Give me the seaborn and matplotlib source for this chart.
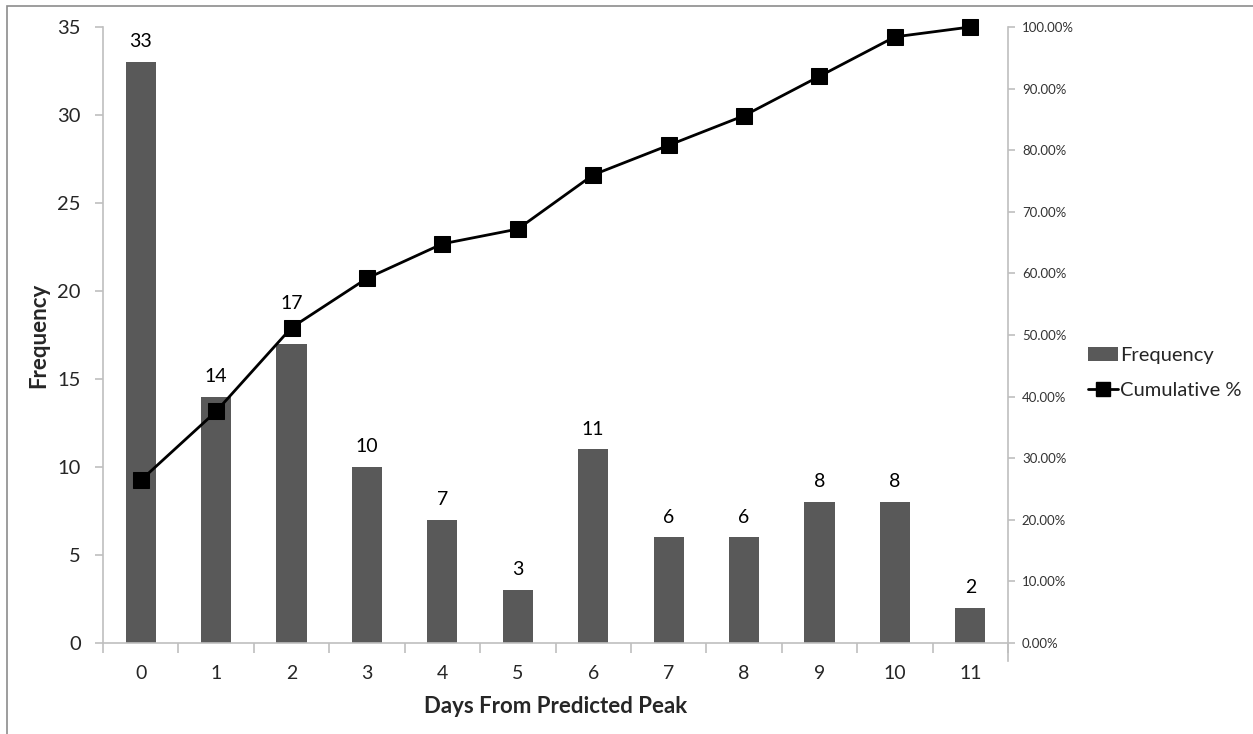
import matplotlib
matplotlib.use("Agg")
import matplotlib.pyplot as plt
import seaborn as sns
import pandas as pd
from matplotlib.lines import Line2D
from matplotlib.patches import Patch, Rectangle
from matplotlib.ticker import FuncFormatter, MultipleLocator

days = ["0", "1", "2", "3", "4", "5", "6", "7", "8", "9", "10", "11"]
frequency = [33, 14, 17, 10, 7, 3, 11, 6, 6, 8, 8, 2]
cumulative_pct = [26.40, 37.60, 51.20, 59.20, 64.80, 67.20,
                  76.00, 80.80, 85.60, 92.00, 98.40, 100.00]

sns.set_theme(style="white")
plt.rcParams["font.family"] = ["Lato", "DejaVu Sans"]

AXIS_GREY = "#bfbfbf"
BAR_GREY = "#595959"

fig = plt.figure(figsize=(12.53, 7.34), dpi=100)
fig.patches.append(Rectangle((7 / 1253, -0.01), 1.2, 1 - 6 / 734 + 0.01,
                             transform=fig.transFigure, fill=False,
                             edgecolor="#8c8c8c", linewidth=1.2))
ax = fig.add_axes([103 / 1253, 1 - 643 / 734, (1008 - 103) / 1253, (643 - 27) / 734])

df = pd.DataFrame({"day": days, "freq": frequency})
sns.barplot(data=df, x="day", y="freq", color=BAR_GREY, saturation=1,
            width=0.4, ax=ax, zorder=2)
for p in ax.patches:
    p.set_edgecolor("none")

# value labels; the one for day 2 is lifted clear of the cumulative line
label_lift = {2: 23}
for i, v in enumerate(frequency):
    ax.annotate(str(v), (i, v), xytext=(0, label_lift.get(i, 8.5)),
                textcoords="offset points", ha="center", va="bottom",
                fontsize=14, color="#000000")

ax.set_xlim(-0.5, len(days) - 0.5)
ax.set_ylim(0, 35)
ax.yaxis.set_major_locator(MultipleLocator(5))
ax.set_xlabel("Days From Predicted Peak", fontsize=16, fontweight="bold", labelpad=10)
ax.set_ylabel("Frequency", fontsize=16, fontweight="bold", labelpad=6)

for s in ["top", "right"]:
    ax.spines[s].set_visible(False)
for s in ["left", "bottom"]:
    ax.spines[s].set_color(AXIS_GREY)
    ax.spines[s].set_linewidth(1.2)

ax.tick_params(axis="y", direction="out", length=6, color=AXIS_GREY, width=1.2,
               labelsize=14.5, pad=10, left=True)
# x tick marks sit between the categories, labels sit under the bars
ax.set_xticks([i - 0.5 for i in range(len(days) + 1)], minor=True)
ax.tick_params(axis="x", which="minor", direction="out", length=7,
               color=AXIS_GREY, width=1.2, bottom=True)
ax.tick_params(axis="x", which="major", length=0, labelsize=14, pad=16)

ax2 = ax.twinx()
sns.lineplot(x=list(range(len(days))), y=[c / 100 for c in cumulative_pct],
             ax=ax2, color="black", linewidth=2, marker="s", markersize=11,
             markeredgecolor="black", markerfacecolor="black", zorder=3,
             clip_on=False)
ax2.set_ylim(0, 1.0)
ax2.yaxis.set_major_locator(MultipleLocator(0.1))
ax2.yaxis.set_major_formatter(FuncFormatter(lambda v, _: f"{v * 100:.2f}%"))
ax2.set_ylabel("")
for s in ["top", "left", "bottom"]:
    ax2.spines[s].set_visible(False)
ax2.spines["right"].set_color(AXIS_GREY)
ax2.spines["right"].set_linewidth(1.2)
ax2.spines["right"].set_bounds(-0.03, 1.0)
ax2.tick_params(axis="y", direction="out", length=5, color=AXIS_GREY, width=1.2,
                labelsize=9.5, pad=5, right=True, labelcolor="#333333")

handles = [Patch(facecolor=BAR_GREY, edgecolor="none"),
           Line2D([0], [0], color="black", linewidth=2, marker="s",
                  markersize=10, markerfacecolor="black")]
fig.legend(handles, ["Frequency", "Cumulative %"], loc="center left",
           bbox_to_anchor=(1070 / 1253, 1 - 373 / 734), frameon=False,
           fontsize=14.5, handlelength=1.5, handletextpad=0.1, labelspacing=0.9)

fig.savefig("out.png", dpi=100)
